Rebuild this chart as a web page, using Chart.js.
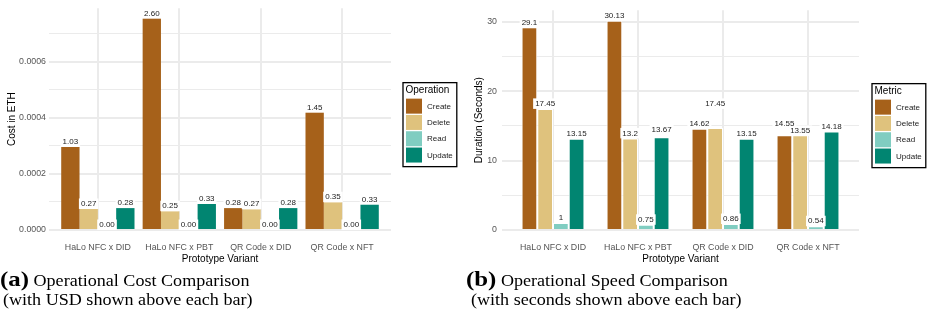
<!DOCTYPE html>
<html><head><meta charset="utf-8">
<script src="https://cdn.jsdelivr.net/npm/chart.js@4.4.1/dist/chart.umd.min.js"></script>
<style>
html,body{margin:0;padding:0;background:#fff;}
#wrap{position:relative;width:927px;height:313px;overflow:hidden;background:#fff;}
canvas{position:absolute;top:0;}
.cap{position:absolute;font-family:"Liberation Serif","Times New Roman",serif;color:#000;white-space:nowrap;transform-origin:0 0;transform:scaleX(1.13);font-size:16px;line-height:20px;}
.cap b{font-size:22px;}
</style></head><body>
<div id="wrap">
<canvas id="cost" width="463" height="268" style="left:0;width:463px;height:268px"></canvas>
<canvas id="speed" width="464" height="268" style="left:463px;width:464px;height:268px"></canvas>
<div class="cap" style="left:0;top:269px"><b>(a)</b> Operational Cost Comparison</div>
<div class="cap" style="left:3px;top:290px">(with USD shown above each bar)</div>
<div class="cap" style="left:466px;top:269px"><b>(b)</b> Operational Speed Comparison</div>
<div class="cap" style="left:471px;top:290px">(with seconds shown above each bar)</div>
</div>
<script>
// ---------- data ----------
const categories = ['HaLo NFC x DID', 'HaLo NFC x PBT', 'QR Code x DID', 'QR Code x NFT'];
const seriesNames = ['Create', 'Delete', 'Read', 'Update'];
const seriesColors = ['#A6611A', '#DFC27D', '#80CDC1', '#018571'];

// (a) cost in ETH (bar heights) and USD labels
const costCreate = [0.000296, 0.000754, 0.000078, 0.000419];
const costDelete = [0.000075, 0.000067, 0.000074, 0.000099];
const costRead   = [0, 0, 0, 0];
const costUpdate = [0.000078, 0.000093, 0.000078, 0.000091];
const costCreateUsd = ['1.03', '2.60', '0.28', '1.45'];
const costDeleteUsd = ['0.27', '0.25', '0.27', '0.35'];
const costReadUsd   = ['0.00', '0.00', '0.00', '0.00'];
const costUpdateUsd = ['0.28', '0.33', '0.28', '0.33'];
const costGridTicks = [0, 0.0001, 0.0002, 0.0003, 0.0004, 0.0005, 0.0006, 0.0007];
const costMajorTicks = [0, 0.0002, 0.0004, 0.0006];
const costTickLabels = ['0.0000', '0.0002', '0.0004', '0.0006'];
const costMax = 0.00079;

// (b) duration in seconds (bar heights) and labels
const speedCreate = [29.2, 30.15, 14.6, 13.65];
const speedDelete = [17.45, 13.2, 14.7, 13.65];
const speedRead   = [1.0, 0.75, 0.86, 0.54];
const speedUpdate = [13.15, 13.35, 13.15, 14.2];
const speedCreateLbl = ['29.1', '30.13', '14.62', '14.55'];
const speedDeleteLbl = ['17.45', '13.2', '17.45', '13.55'];
const speedReadLbl   = ['1', '0.75', '0.86', '0.54'];
const speedUpdateLbl = ['13.15', '13.67', '13.15', '14.18'];
const speedGridTicks = [0, 5, 10, 15, 20, 25, 30];
const speedMajorTicks = [0, 10, 20, 30];
const speedTickLabels = ['0', '10', '20', '30'];
const speedMax = 31.66;

// ---------- helpers ----------
const SANS = '"Liberation Sans", Arial, Helvetica, sans-serif';
Chart.defaults.font.family = SANS;
Chart.defaults.animation = false;
const GRID = '#ebebeb';

const barLabels = {
  id: 'barLabels',
  afterDatasetsDraw(chart, args, o) {
    const ctx = chart.ctx, ys = chart.scales.y;
    ctx.save();
    ctx.font = '8px ' + SANS;
    ctx.textAlign = 'center';
    ctx.textBaseline = 'middle';
    const items = [];
    chart.data.datasets.forEach((ds, di) => {
      const meta = chart.getDatasetMeta(di);
      meta.data.forEach((bar, i) => {
        const txt = ds.labelTexts[i];
        const v = o.atLabelValue ? parseFloat(txt) : ds.data[i].y;
        items.push({ txt, x: bar.x, y: ys.getPixelForValue(v) - 5.5 });
      });
    });
    ctx.fillStyle = '#fff';
    items.forEach(it => {
      const w = ctx.measureText(it.txt).width + 4;
      ctx.fillRect(it.x - w / 2, it.y - 5, w, 10.5);
    });
    ctx.fillStyle = '#222';
    items.forEach(it => ctx.fillText(it.txt, it.x, it.y + 0.5));
    ctx.restore();
  }
};

const boxLegend = {
  id: 'boxLegend',
  afterDraw(chart, args, o) {
    const ctx = chart.ctx, a = chart.chartArea;
    const x0 = a.right + o.gap, y0 = (a.top + a.bottom) / 2 - 36.5;
    ctx.save();
    ctx.font = '10px ' + SANS;
    const tw = ctx.measureText(o.title).width;
    ctx.font = '8px ' + SANS;
    const lw = Math.max(...chart.data.datasets.map(d => ctx.measureText(d.label).width));
    const w = Math.max(tw + 5, 24 + lw + 4), h = 84;
    ctx.fillStyle = '#fff';
    ctx.fillRect(x0, y0, w, h);
    ctx.strokeStyle = '#000';
    ctx.lineWidth = 1.3;
    ctx.strokeRect(x0, y0, w, h);
    ctx.fillStyle = '#000';
    ctx.font = '10px ' + SANS;
    ctx.textBaseline = 'middle';
    ctx.fillText(o.title, x0 + 2.5, y0 + 7.5);
    ctx.font = '8px ' + SANS;
    chart.data.datasets.forEach((d, i) => {
      const ky = y0 + 16 + i * 16.3;
      ctx.fillStyle = d.backgroundColor;
      ctx.fillRect(x0 + 3, ky, 16, 15);
      ctx.fillStyle = '#222';
      ctx.fillText(d.label, x0 + 24, ky + 8);
    });
    ctx.restore();
  }
};

function makeDatasets(valueLists, labelLists, border) {
  return valueLists.map((vals, k) => ({
    label: seriesNames[k],
    data: vals.map((v, i) => ({ x: i + 1, y: v })),
    labelTexts: labelLists[k],
    backgroundColor: seriesColors[k],
    borderColor: '#fff',
    borderWidth: border,
    borderSkipped: 'bottom'
  }));
}

function makeChart(id, cfg) {
  return new Chart(document.getElementById(id), {
    type: 'bar',
    data: { datasets: makeDatasets(cfg.values, cfg.labels, cfg.border) },
    plugins: [barLabels, boxLegend],
    options: {
      responsive: false,
      animation: false,
      layout: { padding: { top: cfg.top, right: cfg.right, left: 0, bottom: 0 } },
      datasets: { bar: { categoryPercentage: cfg.catPct, barPercentage: cfg.barPct } },
      plugins: {
        legend: { display: false },
        tooltip: { enabled: false },
        barLabels: { atLabelValue: cfg.atLabelValue },
        boxLegend: { title: cfg.legendTitle, gap: cfg.legendGap }
      },
      scales: {
        x: {
          type: 'linear',
          offset: false,
          min: 0.4, max: 4.6,
          afterBuildTicks: s => { s.ticks = categories.map((c, i) => ({ value: i + 1 })); },
          afterFit: s => { s.height = 38; },
          grid: { color: GRID, lineWidth: 2, drawTicks: false, offset: false },
          border: { display: false },
          ticks: {
            autoSkip: false, maxRotation: 0, padding: 12,
            color: '#555', font: { size: 8.8 },
            callback: v => categories[Math.round(v) - 1]
          },
          title: { display: true, text: 'Prototype Variant', color: '#000',
                   font: { size: 10 }, padding: { top: 0, bottom: 3 } }
        },
        y: {
          min: 0, max: cfg.max,
          afterBuildTicks: s => { s.ticks = cfg.grid.map(v => ({ value: v, isMajor: cfg.major.includes(v) })); },
          afterFit: s => { s.width = cfg.yWidth; },
          grid: {
            color: GRID, drawTicks: false,
            lineWidth: c => (c.tick && c.tick.isMajor) ? 2 : 1
          },
          border: { display: false },
          ticks: {
            autoSkip: false, padding: cfg.yPad, color: '#555', font: { size: 8.8 },
            callback: v => { const k = cfg.major.indexOf(v); return k >= 0 ? cfg.tickLabels[k] : ''; }
          },
          title: { display: true, text: cfg.yTitle, color: '#000',
                   font: { size: 10 }, padding: { top: cfg.yTitlePad, bottom: 0 } }
        }
      }
    }
  });
}

makeChart('cost', {
  values: [costCreate, costDelete, costRead, costUpdate],
  labels: [costCreateUsd, costDeleteUsd, costReadUsd, costUpdateUsd],
  border: 0, catPct: 0.9, barPct: 1.0,
  top: 5, right: 72, yWidth: 49, yPad: 3, yTitlePad: 6,
  max: costMax, grid: costGridTicks, major: costMajorTicks, tickLabels: costTickLabels,
  yTitle: 'Cost in ETH', legendTitle: 'Operation', legendGap: 12,
  atLabelValue: false
});

makeChart('speed', {
  values: [speedCreate, speedDelete, speedRead, speedUpdate],
  labels: [speedCreateLbl, speedDeleteLbl, speedReadLbl, speedUpdateLbl],
  border: 1, catPct: 0.74, barPct: 1.0,
  top: 5, right: 68, yWidth: 39, yPad: 5, yTitlePad: 10,
  max: speedMax, grid: speedGridTicks, major: speedMajorTicks, tickLabels: speedTickLabels,
  yTitle: 'Duration (Seconds)', legendTitle: 'Metric', legendGap: 13,
  atLabelValue: true
});
</script>
</body></html>
